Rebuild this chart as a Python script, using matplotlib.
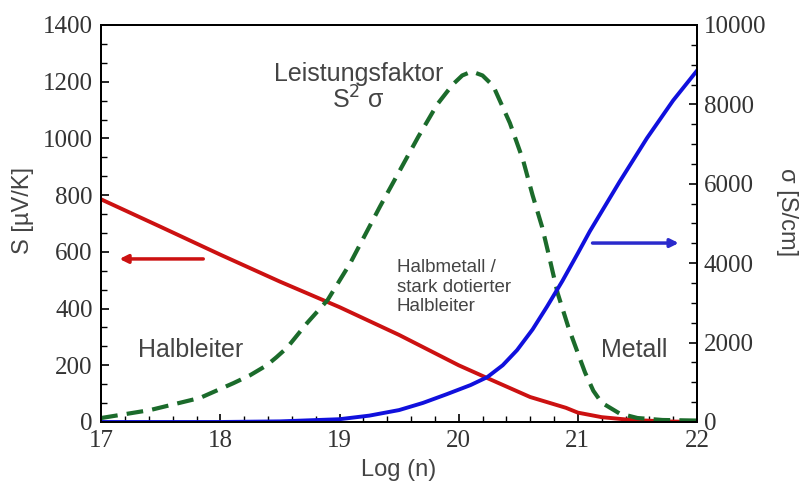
import matplotlib
matplotlib.use('Agg')
import matplotlib.pyplot as plt
from matplotlib.ticker import MultipleLocator

# Seebeck coefficient S [µV/K] over log(n)
x_s = [17.0, 17.5, 18.0, 18.5, 19.0, 19.5, 20.0, 20.25, 20.6, 20.9, 21.0, 21.2, 21.45, 21.75, 22.0]
seebeck = [785, 688, 590, 495, 405, 307, 200, 153, 88, 50, 33, 17, 7, 2, 0]

# conductivity sigma [S/cm]
x_sig = [17.0, 18.0, 18.5, 19.0, 19.25, 19.5, 19.7, 19.9, 20.1, 20.24, 20.37, 20.49, 20.62,
         20.74, 20.87, 21.0, 21.1, 21.35, 21.58, 21.8, 22.0]
sigma = [0, 0, 15, 70, 160, 300, 480, 700, 930, 1130, 1430, 1810, 2330,
         2900, 3550, 4250, 4800, 6050, 7150, 8100, 8850]

# power factor S^2 sigma (scaled to left axis)
x_pf = [17.0, 17.41, 17.83, 18.11, 18.25, 18.39, 18.47, 18.56, 18.73, 18.9, 19.09, 19.34, 19.51,
        19.66, 19.82, 19.95, 20.03, 20.11, 20.2, 20.29, 20.43, 20.54, 20.62, 20.7, 20.75, 20.83,
        20.92, 21.0, 21.06, 21.13, 21.2, 21.35, 21.5, 21.71, 22.0]
power = [14, 42, 85, 137, 165, 200, 228, 262, 350, 430, 560, 760, 890,
         1005, 1120, 1190, 1222, 1236, 1222, 1185, 1054, 924, 800, 688, 600, 455,
         335, 243, 175, 110, 68, 30, 14, 7, 5]

fig = plt.figure(figsize=(8.03, 4.87), dpi=100)
ax = fig.add_axes([0.126, 0.1335, 0.742, 0.8152])
ax2 = ax.twinx()

serif = 'Liberation Serif'
sans = 'Liberation Sans'
grey = '#444444'

ax.plot(x_s, seebeck, color='#cc1111', lw=2.8, zorder=3)
ax.plot(x_pf, power, color='#1b6b2b', lw=3, ls=(0, (4, 2.2)), zorder=3)
ax2.plot(x_sig, sigma, color='#1010dd', lw=2.8)

ax.set_xlim(17, 22)
ax.set_ylim(0, 1400)
ax2.set_ylim(0, 10000)

ax.xaxis.set_major_locator(MultipleLocator(1))
ax.xaxis.set_minor_locator(MultipleLocator(0.2))
ax.yaxis.set_major_locator(MultipleLocator(200))
ax.yaxis.set_minor_locator(MultipleLocator(200 / 3))
ax2.yaxis.set_major_locator(MultipleLocator(2000))
ax2.yaxis.set_minor_locator(MultipleLocator(500))

ax.tick_params(axis='both', which='both', direction='in', top=False, right=False)
ax.tick_params(axis='both', which='major', length=6, width=1.2, labelsize=18, pad=6)
ax.tick_params(axis='both', which='minor', length=4, width=1)
ax2.tick_params(axis='y', which='both', direction='in')
ax2.tick_params(axis='y', which='major', length=6, width=1.2, labelsize=18, pad=5)
ax2.tick_params(axis='y', which='minor', length=4, width=1)
for a in (ax, ax2):
    for lab in a.get_xticklabels() + a.get_yticklabels():
        lab.set_fontfamily(serif)
        lab.set_color('#333333')
    for sp in a.spines.values():
        sp.set_linewidth(1.4)

ax.set_xlabel('Log (n)', fontsize=17, family=sans, color=grey, labelpad=5)
fig.text(23 / 803, 1 - 210 / 487, 'S [µV/K]', rotation=90, ha='center', va='center',
         fontsize=17, family=sans, color=grey)
fig.text(787 / 803, 1 - 212 / 487, 'σ [S/cm]', rotation=270, ha='center', va='center',
         fontsize=17, family=sans, color=grey)

ax.annotate('', xy=(17.13, 575), xytext=(17.88, 575),
            arrowprops=dict(arrowstyle='-|>', color='#cc1111', lw=2.5, mutation_scale=12))
ax.annotate('', xy=(21.87, 631), xytext=(21.1, 631),
            arrowprops=dict(arrowstyle='-|>', color='#2a2acc', lw=2.5, mutation_scale=12))

ax.text(19.16, 1178, 'Leistungsfaktor\nS$^2$ σ', ha='center', va='center', fontsize=18,
        family=sans, color=grey, linespacing=1.05)
ax.text(19.48, 575, 'Halbmetall /\nstark dotierter\nHalbleiter', ha='left', va='top', fontsize=13.5,
        family=sans, color=grey, linespacing=1.2)
ax.text(17.75, 254, 'Halbleiter', ha='center', va='center', fontsize=18, family=sans, color=grey)
ax.text(21.47, 254, 'Metall', ha='center', va='center', fontsize=18, family=sans, color=grey)

fig.savefig('out.png', dpi=100)
